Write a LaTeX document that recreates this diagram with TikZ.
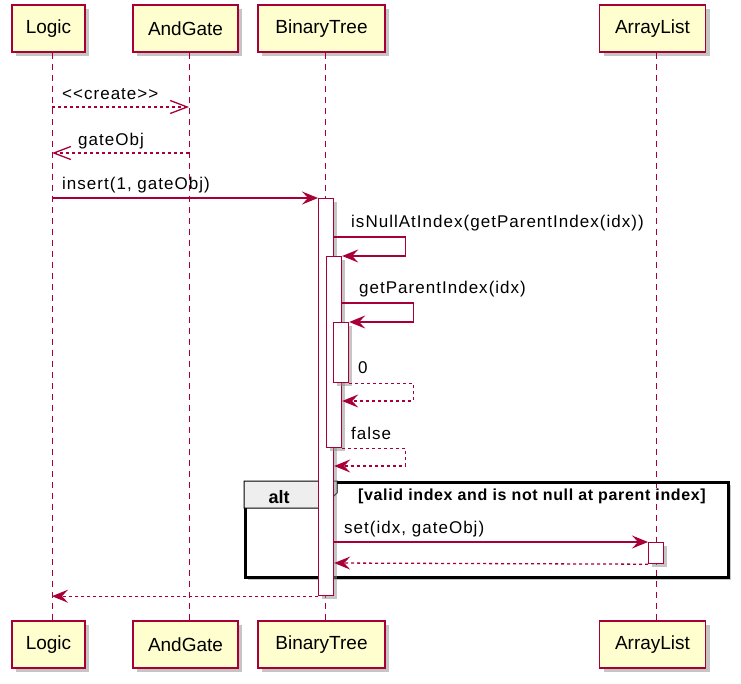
\documentclass[tikz,border=0pt]{standalone}
\usepackage{fontspec}
\setmainfont{Liberation Sans}
\usepackage{tikz}
\usetikzlibrary{arrows.meta}
\usetikzlibrary{shadows}
\definecolor{umlred}{HTML}{A80036}
\definecolor{umlfill}{HTML}{FEFECE}
\definecolor{tabgray}{HTML}{EEEEEE}
\tikzset{
  party/.style={draw=umlred, fill=umlfill, line width=1.4pt, minimum height=47pt, inner sep=0pt,
    font=\fontsize{19}{22}\selectfont,
    drop shadow={shadow xshift=4pt, shadow yshift=-4pt, fill=black!45, opacity=0.5}},
  life/.style={draw=umlred, line width=1pt, dash pattern=on 6pt off 5pt},
  activ/.style={draw=umlred, fill=white, line width=1.2pt, minimum width=15pt, inner sep=0pt, anchor=north west,
    drop shadow={shadow xshift=3pt, shadow yshift=-3pt, fill=black!45, opacity=0.5}},
  msg/.style={draw=umlred, line width=1.3pt, -{Stealth[length=16pt, width=13pt, inset=6pt]}},
  ret/.style={msg, dash pattern=on 3pt off 3pt},
  open/.style={-{Straight Barb[length=17pt, width=13pt]}},
  lbl/.style={anchor=west, inner sep=0pt, font=\fontsize{17}{20}\selectfont\addfontfeature{LetterSpace=6}},
  frame/.style={draw=black, line width=2.5pt, anchor=north west, inner sep=0pt},
}
\newcommand{\party}[4]{ \node[party, minimum width=#3pt] (#1T) at ( {#2-3.5} , 28.5 ) {#4}; \node[party, minimum width=#3pt] (#1B) at ( {#2-3.5} , 644.5 ) {#4}; \coordinate (#1) at ( #2 , 0 ); \draw[life] (#1 |- #1T.south) -- (#1 |- #1B.north);}
\newcommand{\activ}[4]{ \node[activ, minimum height=#4pt] (#1) at ( #2 , #3 ) {};}
\newcommand{\msglabel}[4]{\node[lbl] (#1) at ( #2 , #3 ) {#4};}

\begin{document}
\begin{tikzpicture}[x=1pt, y=-1pt]
        \useasboundingbox (0,0) rectangle (741,683);
        % alt frame background
        \fill[white, drop shadow={shadow xshift=4pt, shadow yshift=-4pt, fill=black!45, opacity=0.5}] (244,481) rectangle (727,576);
        % participants
        \party{logic}{52}{73}{Logic}
        \party{andgate}{189}{105}{AndGate}
        \party{tree}{325}{127}{BinaryTree}
        \party{list}{656}{106}{ArrayList}
        % alt frame
        \node[frame, minimum width=483pt, minimum height=95pt] (altbox) at (244,481) {};
        \draw[fill=tabgray, line width=1pt] (altbox.north west) -- ++(93,0) -- ++(0,12) -- ++(-16,15) -- ++(-77,0) -- cycle;
        \node[font=\fontsize{18}{21}\selectfont\bfseries] (altname) at (279,497) {alt};
        \node[anchor=west, inner sep=0pt, font=\fontsize{16}{19}\selectfont\bfseries\addfontfeature{LetterSpace=4}] (guard) at (358,496) {[valid index and is not null at parent index]};
        % activations
        \activ{act1}{318}{198}{397}
        \activ{act2}{326}{256}{191}
        \activ{act3}{333}{322}{60}
        \activ{act4}{648}{542}{21}
        % create AndGate
        \draw[ret, open] (logic |- 0,107) -- (andgate |- 0,107);
        \msglabel{lCreate}{62}{94}{<{}<create>{}>}
        \draw[ret, open] (andgate |- 0,153) -- (logic |- 0,153);
        \msglabel{lGate}{78}{141}{gateObj}
        % insert
        \draw[msg] (logic |- 0,198) -- (act1.north west);
        \msglabel{lInsert}{62}{185}{insert(1, gateObj)}
        % self calls
        \draw[msg] (act1.east |- 0,237) -- ++(71,0) |- (act2.north east);
        \msglabel{lNull}{351}{223}{isNullAtIndex(getParentIndex(idx))}
        \draw[msg] (act2.east |- 0,303) -- ++(71,0) |- (act3.north east);
        \msglabel{lParent}{359}{289}{getParentIndex(idx)}
        \draw[ret] (act3.south east) -- ++(64,0) |- (act2.east |- 0,401);
        \msglabel{lZero}{358}{368}{0}
        \draw[ret] (act2.south east) -- ++(63,0) |- (act1.east |- 0,466);
        \msglabel{lFalse}{351}{433}{false}
        % set in ArrayList
        \draw[msg] (act1.east |- 0,542) -- (act4.north west);
        \msglabel{lSet}{344}{529}{set(idx, gateObj)}
        \draw[ret] (act4.south west) -- (act1.east |- 0,563);
        % back to Logic
        \draw[ret] (act1.south west) -- (logic |- act1.south west);
    \end{tikzpicture}
\end{document}
